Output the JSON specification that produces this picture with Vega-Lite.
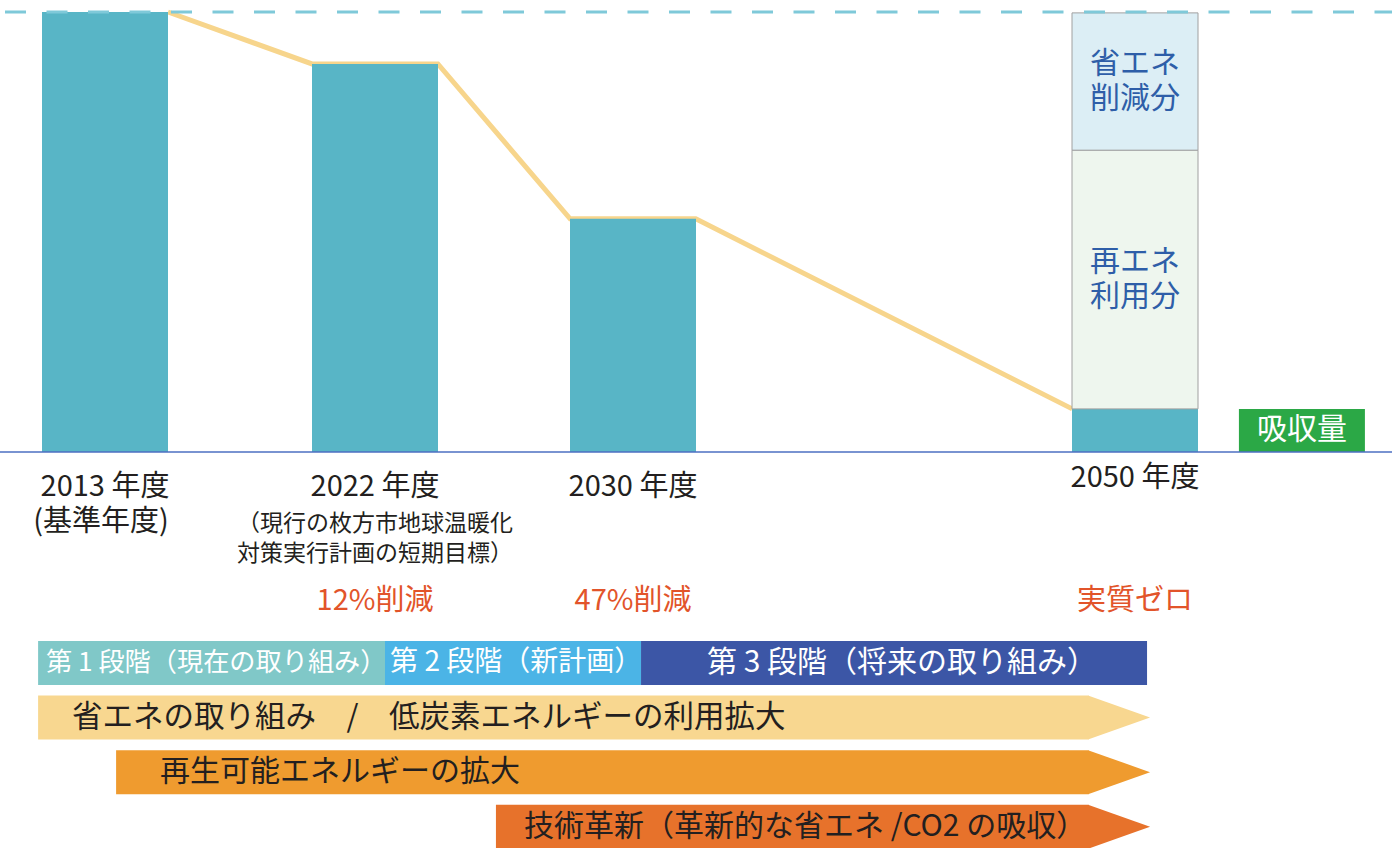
{
  "$schema": "https://vega.github.io/schema/vega-lite/v6.json",
  "width": 1392,
  "height": 848,
  "padding": 0,
  "autosize": {"type": "none"},
  "background": "#ffffff",
  "config": {"view": {"stroke": null}, "font": "Noto Sans CJK JP"},
  "datasets": {
    "bars": [
      {"year": 2013, "value": 100},
      {"year": 2022, "value": 88.2},
      {"year": 2030, "value": 53},
      {"year": 2050, "value": 9.8}
    ],
    "trend": [
      {"year": 2015.1, "value": 100},
      {"year": 2019.9, "value": 88.2},
      {"year": 2023.95, "value": 88.2},
      {"year": 2028.05, "value": 53},
      {"year": 2032.5, "value": 53},
      {"year": 2047.5, "value": 9.8}
    ],
    "parts2050": [
      {"year": 2050, "low": 9.8, "high": 68.6, "key": "再エネ利用分", "text": ["再エネ", "利用分"]},
      {"year": 2050, "low": 68.6, "high": 99.8, "key": "省エネ削減分", "text": ["省エネ", "削減分"]}
    ],
    "absorb": [{"year": 2056.65, "value": 9.8, "text": "吸収量"}],
    "yearLabels": [
      {"year": 2013, "text": "2013 年度"},
      {"year": 2022, "text": "2022 年度"},
      {"year": 2030, "text": "2030 年度"}
    ],
    "reductions": [
      {"year": 2022, "text": "12%削減"},
      {"year": 2030, "text": "47%削減"},
      {"year": 2050, "text": "実質ゼロ"}
    ],
    "stages": [
      {"row": "段階", "start": 2010.77, "end": 2022.31, "key": "第1段階", "text": "第 1 段階（現在の取り組み）"},
      {"row": "段階", "start": 2022.31, "end": 2030.32, "key": "第2段階", "text": "第 2 段階（新計画）"},
      {"row": "段階", "start": 2030.32, "end": 2050.48, "key": "第3段階", "text": "第 3 段階（将来の取り組み）"}
    ],
    "arrows": [
      {"row": "省エネ・低炭素", "start": 2010.77, "end": 2048.15, "tip": 2050.6, "key": "省エネ・低炭素", "text": "省エネの取り組み　/　低炭素エネルギーの利用拡大"},
      {"row": "再エネ拡大", "start": 2013.37, "end": 2048.15, "tip": 2050.6, "key": "再エネ拡大", "text": "再生可能エネルギーの拡大"},
      {"row": "技術革新", "start": 2025.75, "end": 2048.15, "tip": 2050.6, "key": "技術革新", "text": "技術革新（革新的な省エネ /CO2 の吸収）"}
    ]
  },
  "resolve": {"scale": {"y": "independent"}},
  "layer": [
    {
      "layer": [
        {
          "data": {"name": "trend"},
          "mark": {"type": "line", "color": "#f7d58c", "strokeWidth": 5},
          "encoding": {
            "x": {"field": "year", "type": "quantitative", "axis": null, "scale": {"domain": [2013, 2022, 2030, 2050], "range": [105, 375, 633, 1135], "nice": false, "zero": false, "padding": 0}},
            "y": {"field": "value", "type": "quantitative", "axis": null, "scale": {"domain": [0, 100], "range": [452, 12], "nice": false, "zero": false}}
          }
        },
        {
          "data": {"name": "bars"},
          "mark": {"type": "bar", "width": 126, "color": "#58b5c6"},
          "encoding": {
            "x": {"field": "year", "type": "quantitative", "axis": null, "scale": {"domain": [2013, 2022, 2030, 2050], "range": [105, 375, 633, 1135], "nice": false, "zero": false, "padding": 0}},
            "y": {"field": "value", "type": "quantitative", "axis": null, "scale": {"domain": [0, 100], "range": [452, 12], "nice": false, "zero": false}}
          }
        },
        {
          "data": {"name": "parts2050"},
          "mark": {"type": "bar", "width": 126, "stroke": "#a0a0a0", "strokeWidth": 1},
          "encoding": {
            "x": {"field": "year", "type": "quantitative", "axis": null, "scale": {"domain": [2013, 2022, 2030, 2050], "range": [105, 375, 633, 1135], "nice": false, "zero": false, "padding": 0}},
            "y": {"field": "low", "type": "quantitative", "axis": null, "scale": {"domain": [0, 100], "range": [452, 12], "nice": false, "zero": false}},
            "y2": {"field": "high"},
            "color": {"field": "key", "type": "nominal", "legend": null, "scale": {"domain": ["再エネ利用分", "省エネ削減分", "第1段階", "第2段階", "第3段階", "省エネ・低炭素", "再エネ拡大", "技術革新"], "range": ["#eef6ee", "#dceef5", "#80c8c8", "#4bb4e6", "#3c56a6", "#f8d790", "#ef9b2f", "#e7722b"]}}
          }
        },
        {
          "data": {"name": "absorb"},
          "mark": {"type": "bar", "width": 126, "color": "#2ba846"},
          "encoding": {
            "x": {"field": "year", "type": "quantitative", "axis": null, "scale": {"domain": [2013, 2022, 2030, 2050], "range": [105, 375, 633, 1135], "nice": false, "zero": false, "padding": 0}},
            "y": {"field": "value", "type": "quantitative", "axis": null, "scale": {"domain": [0, 100], "range": [452, 12], "nice": false, "zero": false}}
          }
        },
        {
          "data": {"name": "parts2050"},
          "transform": [{"calculate": "(datum.low + datum.high) / 2", "as": "mid"}],
          "mark": {"type": "text", "fontSize": 30, "lineHeight": 35, "color": "#2e5ea8", "align": "center", "baseline": "middle", "dy": -18},
          "encoding": {
            "x": {"field": "year", "type": "quantitative", "axis": null, "scale": {"domain": [2013, 2022, 2030, 2050], "range": [105, 375, 633, 1135], "nice": false, "zero": false, "padding": 0}},
            "y": {"field": "mid", "type": "quantitative", "axis": null, "scale": {"domain": [0, 100], "range": [452, 12], "nice": false, "zero": false}},
            "text": {"field": "text"}
          }
        },
        {
          "data": {"name": "absorb"},
          "transform": [{"calculate": "datum.value / 2", "as": "mid"}],
          "mark": {"type": "text", "fontSize": 30, "color": "#ffffff", "align": "center", "baseline": "middle"},
          "encoding": {
            "x": {"field": "year", "type": "quantitative", "axis": null, "scale": {"domain": [2013, 2022, 2030, 2050], "range": [105, 375, 633, 1135], "nice": false, "zero": false, "padding": 0}},
            "y": {"field": "mid", "type": "quantitative", "axis": null, "scale": {"domain": [0, 100], "range": [452, 12], "nice": false, "zero": false}},
            "text": {"field": "text"}
          }
        },
        {
          "data": {"name": "yearLabels"},
          "mark": {"type": "text", "fontSize": 29, "color": "#231f20", "align": "center", "baseline": "middle", "dy": 35},
          "encoding": {
            "x": {"field": "year", "type": "quantitative", "axis": null, "scale": {"domain": [2013, 2022, 2030, 2050], "range": [105, 375, 633, 1135], "nice": false, "zero": false, "padding": 0}},
            "y": {"datum": 0, "axis": null, "scale": {"domain": [0, 100], "range": [452, 12], "nice": false, "zero": false}},
            "text": {"field": "text"}
          }
        },
        {
          "data": {"values": [{"year": 2050, "text": "2050 年度"}]},
          "mark": {"type": "text", "fontSize": 29, "color": "#231f20", "align": "center", "baseline": "middle", "dy": 26},
          "encoding": {
            "x": {"field": "year", "type": "quantitative", "axis": null, "scale": {"domain": [2013, 2022, 2030, 2050], "range": [105, 375, 633, 1135], "nice": false, "zero": false, "padding": 0}},
            "y": {"datum": 0, "axis": null, "scale": {"domain": [0, 100], "range": [452, 12], "nice": false, "zero": false}},
            "text": {"field": "text"}
          }
        },
        {
          "data": {"values": [{"year": 2013, "text": "(基準年度)"}]},
          "mark": {"type": "text", "fontSize": 29, "color": "#231f20", "align": "center", "baseline": "middle", "dy": 70, "dx": -4},
          "encoding": {
            "x": {"field": "year", "type": "quantitative", "axis": null, "scale": {"domain": [2013, 2022, 2030, 2050], "range": [105, 375, 633, 1135], "nice": false, "zero": false, "padding": 0}},
            "y": {"datum": 0, "axis": null, "scale": {"domain": [0, 100], "range": [452, 12], "nice": false, "zero": false}},
            "text": {"field": "text"}
          }
        },
        {
          "data": {"values": [{"year": 2022, "text": ["（現行の枚方市地球温暖化", "対策実行計画の短期目標）"]}]},
          "mark": {"type": "text", "fontSize": 23, "lineHeight": 30, "color": "#231f20", "align": "center", "baseline": "middle", "dy": 72},
          "encoding": {
            "x": {"field": "year", "type": "quantitative", "axis": null, "scale": {"domain": [2013, 2022, 2030, 2050], "range": [105, 375, 633, 1135], "nice": false, "zero": false, "padding": 0}},
            "y": {"datum": 0, "axis": null, "scale": {"domain": [0, 100], "range": [452, 12], "nice": false, "zero": false}},
            "text": {"field": "text"}
          }
        },
        {
          "data": {"name": "reductions"},
          "mark": {"type": "text", "fontSize": 29, "color": "#e2542a", "align": "center", "baseline": "middle", "dy": 149},
          "encoding": {
            "x": {"field": "year", "type": "quantitative", "axis": null, "scale": {"domain": [2013, 2022, 2030, 2050], "range": [105, 375, 633, 1135], "nice": false, "zero": false, "padding": 0}},
            "y": {"datum": 0, "axis": null, "scale": {"domain": [0, 100], "range": [452, 12], "nice": false, "zero": false}},
            "text": {"field": "text"}
          }
        },
        {
          "data": {"values": [{}]},
          "mark": {"type": "rule", "color": "#4d6fc2", "strokeWidth": 1.5},
          "encoding": {
            "y": {"datum": 0, "axis": null, "scale": {"domain": [0, 100], "range": [452, 12], "nice": false, "zero": false}}
          }
        },
        {
          "data": {"values": [{}]},
          "mark": {"type": "rule", "color": "#7fc9d9", "strokeWidth": 3, "strokeDash": [21, 20.5], "strokeDashOffset": 3.5},
          "encoding": {
            "y": {"datum": 100, "axis": null, "scale": {"domain": [0, 100], "range": [452, 12], "nice": false, "zero": false}}
          }
        }
      ]
    },
    {
      "layer": [
        {
          "data": {"name": "stages"},
          "mark": {"type": "bar"},
          "encoding": {
            "x": {"field": "start", "type": "quantitative", "axis": null, "scale": {"domain": [2013, 2022, 2030, 2050], "range": [105, 375, 633, 1135], "nice": false, "zero": false, "padding": 0}},
            "x2": {"field": "end"},
            "y": {"field": "row", "type": "nominal", "axis": null, "scale": {"domain": ["段階", "省エネ・低炭素", "再エネ拡大", "技術革新"], "range": [635.6, 854.1], "paddingInner": 0.1949, "paddingOuter": 0.09745}},
            "color": {"field": "key", "type": "nominal", "legend": null, "scale": {"domain": ["再エネ利用分", "省エネ削減分", "第1段階", "第2段階", "第3段階", "省エネ・低炭素", "再エネ拡大", "技術革新"], "range": ["#eef6ee", "#dceef5", "#80c8c8", "#4bb4e6", "#3c56a6", "#f8d790", "#ef9b2f", "#e7722b"]}}
          }
        },
        {
          "data": {"name": "stages"},
          "transform": [{"filter": "datum.key == '第1段階'"}, {"calculate": "(datum.start + datum.end) / 2", "as": "mid"}],
          "mark": {"type": "text", "fontSize": 26.2, "color": "#ffffff", "align": "center", "baseline": "middle", "dx": 5},
          "encoding": {
            "x": {"field": "mid", "type": "quantitative", "axis": null, "scale": {"domain": [2013, 2022, 2030, 2050], "range": [105, 375, 633, 1135], "nice": false, "zero": false, "padding": 0}},
            "y": {"field": "row", "type": "nominal", "axis": null, "scale": {"domain": ["段階", "省エネ・低炭素", "再エネ拡大", "技術革新"], "range": [635.6, 854.1], "paddingInner": 0.1949, "paddingOuter": 0.09745}},
            "text": {"field": "text"}
          }
        },
        {
          "data": {"name": "stages"},
          "transform": [{"filter": "datum.key == '第2段階'"}, {"calculate": "(datum.start + datum.end) / 2", "as": "mid"}],
          "mark": {"type": "text", "fontSize": 28, "color": "#ffffff", "align": "center", "baseline": "middle", "dx": 2},
          "encoding": {
            "x": {"field": "mid", "type": "quantitative", "axis": null, "scale": {"domain": [2013, 2022, 2030, 2050], "range": [105, 375, 633, 1135], "nice": false, "zero": false, "padding": 0}},
            "y": {"field": "row", "type": "nominal", "axis": null, "scale": {"domain": ["段階", "省エネ・低炭素", "再エネ拡大", "技術革新"], "range": [635.6, 854.1], "paddingInner": 0.1949, "paddingOuter": 0.09745}},
            "text": {"field": "text"}
          }
        },
        {
          "data": {"name": "stages"},
          "transform": [{"filter": "datum.key == '第3段階'"}, {"calculate": "(datum.start + datum.end) / 2", "as": "mid"}],
          "mark": {"type": "text", "fontSize": 30, "color": "#ffffff", "align": "center", "baseline": "middle", "dx": 8},
          "encoding": {
            "x": {"field": "mid", "type": "quantitative", "axis": null, "scale": {"domain": [2013, 2022, 2030, 2050], "range": [105, 375, 633, 1135], "nice": false, "zero": false, "padding": 0}},
            "y": {"field": "row", "type": "nominal", "axis": null, "scale": {"domain": ["段階", "省エネ・低炭素", "再エネ拡大", "技術革新"], "range": [635.6, 854.1], "paddingInner": 0.1949, "paddingOuter": 0.09745}},
            "text": {"field": "text"}
          }
        },
        {
          "data": {"name": "arrows"},
          "mark": {"type": "bar"},
          "encoding": {
            "x": {"field": "start", "type": "quantitative", "axis": null, "scale": {"domain": [2013, 2022, 2030, 2050], "range": [105, 375, 633, 1135], "nice": false, "zero": false, "padding": 0}},
            "x2": {"field": "end"},
            "y": {"field": "row", "type": "nominal", "axis": null, "scale": {"domain": ["段階", "省エネ・低炭素", "再エネ拡大", "技術革新"], "range": [635.6, 854.1], "paddingInner": 0.1949, "paddingOuter": 0.09745}},
            "color": {"field": "key", "type": "nominal", "legend": null, "scale": {"domain": ["再エネ利用分", "省エネ削減分", "第1段階", "第2段階", "第3段階", "省エネ・低炭素", "再エネ拡大", "技術革新"], "range": ["#eef6ee", "#dceef5", "#80c8c8", "#4bb4e6", "#3c56a6", "#f8d790", "#ef9b2f", "#e7722b"]}}
          }
        },
        {
          "data": {"name": "arrows"},
          "mark": {"type": "point", "filled": true, "opacity": 1, "size": 1936, "shape": "M-2.82,-1L0,0L-2.82,1Z", "strokeWidth": 0},
          "encoding": {
            "x": {"field": "tip", "type": "quantitative", "axis": null, "scale": {"domain": [2013, 2022, 2030, 2050], "range": [105, 375, 633, 1135], "nice": false, "zero": false, "padding": 0}},
            "y": {"field": "row", "type": "nominal", "axis": null, "scale": {"domain": ["段階", "省エネ・低炭素", "再エネ拡大", "技術革新"], "range": [635.6, 854.1], "paddingInner": 0.1949, "paddingOuter": 0.09745}},
            "color": {"field": "key", "type": "nominal", "legend": null, "scale": {"domain": ["再エネ利用分", "省エネ削減分", "第1段階", "第2段階", "第3段階", "省エネ・低炭素", "再エネ拡大", "技術革新"], "range": ["#eef6ee", "#dceef5", "#80c8c8", "#4bb4e6", "#3c56a6", "#f8d790", "#ef9b2f", "#e7722b"]}}
          }
        },
        {
          "data": {"name": "arrows"},
          "transform": [{"filter": "datum.key == '省エネ・低炭素'"}],
          "mark": {"type": "text", "fontSize": 30.5, "color": "#231f20", "align": "left", "baseline": "middle", "dx": 34},
          "encoding": {
            "x": {"field": "start", "type": "quantitative", "axis": null, "scale": {"domain": [2013, 2022, 2030, 2050], "range": [105, 375, 633, 1135], "nice": false, "zero": false, "padding": 0}},
            "y": {"field": "row", "type": "nominal", "axis": null, "scale": {"domain": ["段階", "省エネ・低炭素", "再エネ拡大", "技術革新"], "range": [635.6, 854.1], "paddingInner": 0.1949, "paddingOuter": 0.09745}},
            "text": {"field": "text"}
          }
        },
        {
          "data": {"name": "arrows"},
          "transform": [{"filter": "datum.key == '再エネ拡大'"}],
          "mark": {"type": "text", "fontSize": 30, "color": "#231f20", "align": "left", "baseline": "middle", "dx": 44},
          "encoding": {
            "x": {"field": "start", "type": "quantitative", "axis": null, "scale": {"domain": [2013, 2022, 2030, 2050], "range": [105, 375, 633, 1135], "nice": false, "zero": false, "padding": 0}},
            "y": {"field": "row", "type": "nominal", "axis": null, "scale": {"domain": ["段階", "省エネ・低炭素", "再エネ拡大", "技術革新"], "range": [635.6, 854.1], "paddingInner": 0.1949, "paddingOuter": 0.09745}},
            "text": {"field": "text"}
          }
        },
        {
          "data": {"name": "arrows"},
          "transform": [{"filter": "datum.key == '技術革新'"}],
          "mark": {"type": "text", "fontSize": 30, "color": "#231f20", "align": "left", "baseline": "middle", "dx": 28},
          "encoding": {
            "x": {"field": "start", "type": "quantitative", "axis": null, "scale": {"domain": [2013, 2022, 2030, 2050], "range": [105, 375, 633, 1135], "nice": false, "zero": false, "padding": 0}},
            "y": {"field": "row", "type": "nominal", "axis": null, "scale": {"domain": ["段階", "省エネ・低炭素", "再エネ拡大", "技術革新"], "range": [635.6, 854.1], "paddingInner": 0.1949, "paddingOuter": 0.09745}},
            "text": {"field": "text"}
          }
        }
      ]
    }
  ]
}
